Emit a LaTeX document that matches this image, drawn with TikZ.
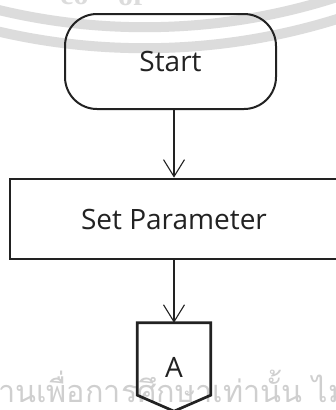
\documentclass[tikz,border=0pt]{standalone}
\usepackage{fontspec}
\setmainfont{Open Sans}
\newfontfamily\thaifont[Script=Thai]{Loma}
\newfontfamily\sealfont{Liberation Serif}
\usetikzlibrary{arrows.meta,calc}

\definecolor{ink}{HTML}{222222}
\definecolor{sealgray}{HTML}{DCDCDC}
\definecolor{noticegray}{HTML}{CFCFCF}

\tikzset{
  flow/.style={line width=1.1pt, draw=ink, -{Straight Barb[length=17pt,width=21pt,line width=1.1pt]}},
  terminal/.style={draw=ink, line width=2pt, rounded corners=32pt,
    minimum width=211pt, minimum height=95pt, inner sep=0pt,
    font=\fontsize{28}{32}\selectfont, text=ink},
  process/.style={draw=ink, line width=2.7pt,
    minimum width=328pt, minimum height=80pt, inner sep=0pt,
    font=\fontsize{28}{32}\selectfont, text=ink},
  pagelink/.style={minimum width=73pt, minimum height=88pt, inner sep=0pt,
    font=\fontsize{28}{32}\selectfont, text=ink},
  pageedge/.style={draw=ink, line width=2.7pt, line join=miter},
  ring/.style={draw=sealgray, line width=10pt},
}

\begin{document}
\begin{tikzpicture}[x=1pt,y=-1pt]
\useasboundingbox (0,0) rectangle (336,410);
\fill[white] (0,0) rectangle (336,410);

% seal watermark: two rings and the foot of its lettering
\begin{scope}
\clip (0,0) rectangle (336,410);
\draw[ring] (144.8,-596.8) circle[radius=645];
\draw[ring] (144.8,-596.8) circle[radius=624];
\end{scope}
\node[anchor=base west, inner sep=0pt, text=sealgray, font=\sealfont\bfseries\fontsize{30}{30}\selectfont] (sealco) at (60,4) {co};
\node[anchor=base west, inner sep=0pt, text=sealgray, font=\sealfont\bfseries\fontsize{30}{30}\selectfont] (sealof) at (118,5) {of};

% Thai watermark line
\node[anchor=base west, inner sep=0pt, text=noticegray, font=\thaifont\fontsize{30.6}{32}\selectfont] (notice) at (-2,402) {านเพื่อการศึกษาเท่านั้น ไม่อนุญาต};

% flowchart
\node[terminal] (start) at (170.5,61.5) {Start};
\node[process] (param) at (174,219) {Set Parameter};
\node[pagelink] (conn) at (174,367) {A};
\draw[pageedge] (conn.north west) -- (conn.north east) -- ([yshift=16pt]conn.south east)
  -- (conn.south) -- ([yshift=16pt]conn.south west) -- cycle;

\draw[flow] (start.south -| conn.north) -- (param.north -| conn.north);
\draw[flow] (param.south -| conn.north) -- (conn.north);
\end{tikzpicture}
\end{document}
